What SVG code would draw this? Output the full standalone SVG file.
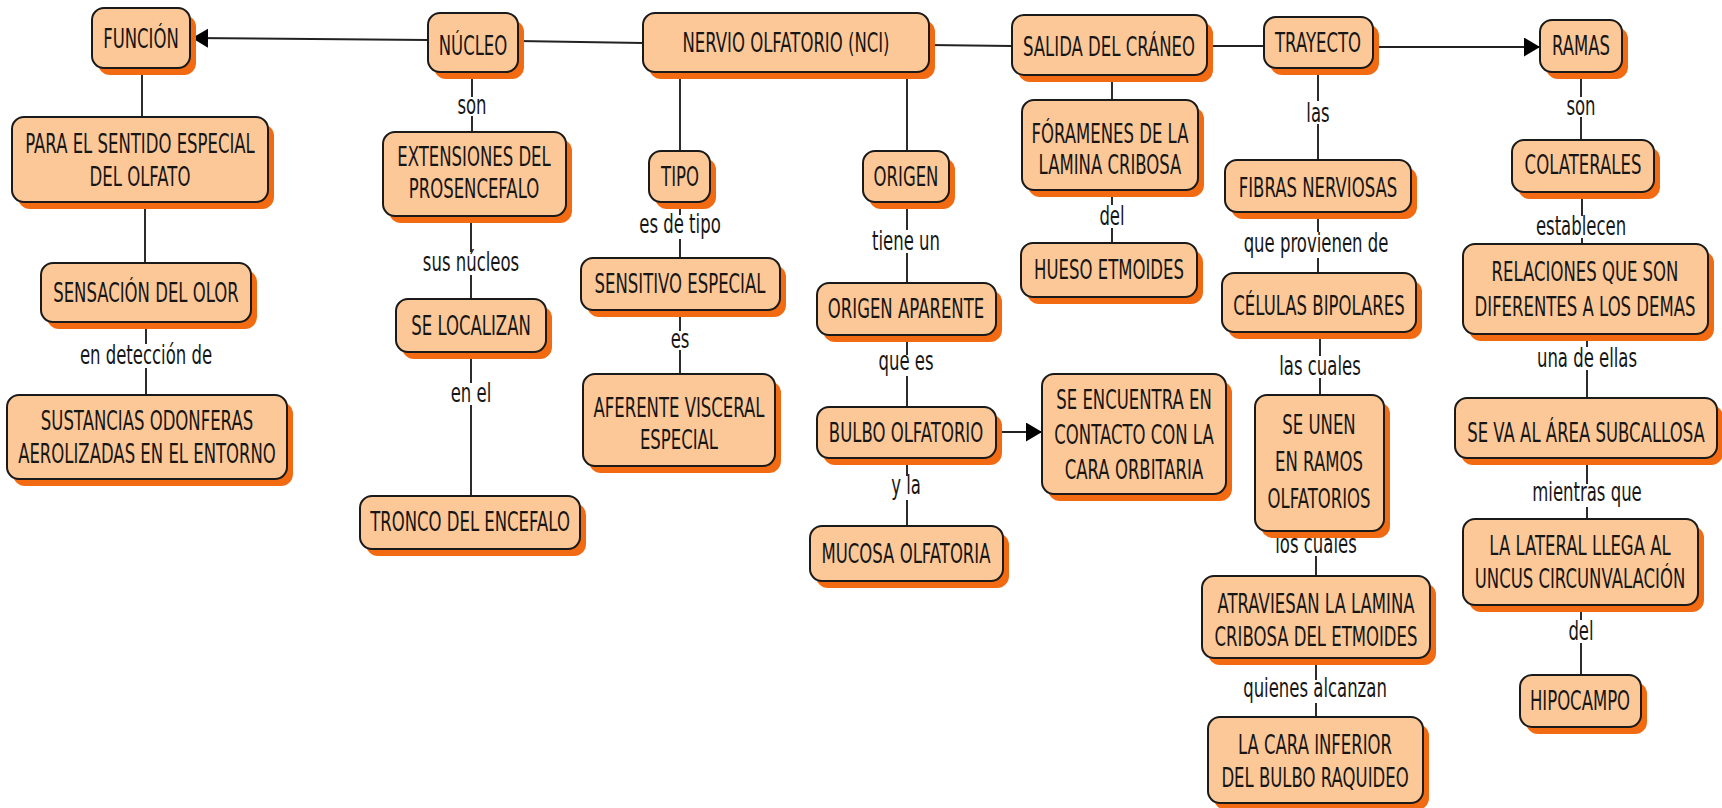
<svg xmlns="http://www.w3.org/2000/svg" width="1722" height="808" viewBox="0 0 1722 808">
<defs>
<style>
.sh{fill:#F26A12}
.bx{fill:#FDC897;stroke:#1a1a1a;stroke-width:2}
.t{font-family:"DejaVu Sans",Verdana,sans-serif;font-size:26.5px;fill:#161616;text-anchor:middle}
.cn{stroke:#222;stroke-width:1.9;fill:none}
</style>
<marker id="ah" markerWidth="17" markerHeight="20" refX="16" refY="9.5" orient="auto" markerUnits="userSpaceOnUse"><path d="M0,0 L16,9.5 L0,19 z" fill="#000"/></marker>
</defs>
<rect width="1722" height="808" fill="#fff"/>
<g id="connectors">
<line class="cn" x1="428" y1="40" x2="192" y2="38" marker-end="url(#ah)"/>
<line class="cn" x1="518" y1="41" x2="643" y2="43"/>
<line class="cn" x1="929" y1="45" x2="1012" y2="46"/>
<line class="cn" x1="1207" y1="46" x2="1264" y2="46"/>
<line class="cn" x1="1373" y1="47" x2="1540" y2="47" marker-end="url(#ah)"/>
<line class="cn" x1="142" y1="68" x2="142" y2="117"/>
<line class="cn" x1="145" y1="202" x2="145" y2="263"/>
<path class="cn" d="M146,322V344M146,368V395"/>
<path class="cn" d="M472,72V97M472,116V133"/>
<path class="cn" d="M471,210V252M471,275V301"/>
<path class="cn" d="M471,350V383M471,405V496"/>
<path class="cn" d="M680,72V151"/>
<path class="cn" d="M680,200V215M680,239V258"/>
<path class="cn" d="M680,310V331M680,350V376"/>
<path class="cn" d="M907,72V151"/>
<path class="cn" d="M907,200V230M907,253V283"/>
<path class="cn" d="M907,335V355M907,376V407"/>
<line class="cn" x1="996" y1="432" x2="1042" y2="432" marker-end="url(#ah)"/>
<path class="cn" d="M907,458V476M907,500V526"/>
<path class="cn" d="M1112,75V100"/>
<path class="cn" d="M1112,190V205M1112,228V243"/>
<path class="cn" d="M1318,68V101M1318,124V160"/>
<path class="cn" d="M1318,212V232M1318,258V273"/>
<path class="cn" d="M1320,332V356M1320,378V400"/>
<path class="cn" d="M1316,528V535M1316,556V576"/>
<path class="cn" d="M1316,658V680M1316,703V717"/>
<path class="cn" d="M1581,72V97M1581,117V140"/>
<path class="cn" d="M1582,192V216M1582,238V248"/>
<path class="cn" d="M1587,330V347M1587,370V398"/>
<path class="cn" d="M1587,458V484M1587,507V522"/>
<path class="cn" d="M1581,602V620M1581,643V675"/>
<text class="t" transform="translate(146,364) scale(.623,1)">en detección de</text>
<text class="t" transform="translate(472,114) scale(.623,1)">son</text>
<text class="t" transform="translate(471,271) scale(.623,1)">sus núcleos</text>
<text class="t" transform="translate(471,402) scale(.623,1)">en el</text>
<text class="t" transform="translate(680,233) scale(.623,1)">es de tipo</text>
<text class="t" transform="translate(680,348) scale(.623,1)">es</text>
<text class="t" transform="translate(906,250) scale(.623,1)">tiene un</text>
<text class="t" transform="translate(906,370) scale(.623,1)">que es</text>
<text class="t" transform="translate(906,494) scale(.623,1)">y la</text>
<text class="t" transform="translate(1112,225) scale(.623,1)">del</text>
<text class="t" transform="translate(1318,122) scale(.623,1)">las</text>
<text class="t" transform="translate(1316,252) scale(.623,1)">que provienen de</text>
<text class="t" transform="translate(1320,375) scale(.623,1)">las cuales</text>
<text class="t" transform="translate(1316,553) scale(.623,1)">los cuales</text>
<text class="t" transform="translate(1315,697) scale(.623,1)">quienes alcanzan</text>
<text class="t" transform="translate(1581,115) scale(.623,1)">son</text>
<text class="t" transform="translate(1581,235) scale(.623,1)">establecen</text>
<text class="t" transform="translate(1587,367) scale(.623,1)">una de ellas</text>
<text class="t" transform="translate(1587,501) scale(.623,1)">mientras que</text>
<text class="t" transform="translate(1581,640) scale(.623,1)">del</text>
</g>
<g id="n01"><rect class="sh" x="98" y="15" width="98" height="60" rx="12"/><rect class="bx" x="92" y="8" width="98" height="60" rx="12"/><text class="t" transform="translate(141,48) scale(.623,1)">FUNCIÓN</text></g>
<g id="n02"><rect class="sh" x="434" y="20" width="90" height="59" rx="12"/><rect class="bx" x="428" y="13" width="90" height="59" rx="12"/><text class="t" transform="translate(473,55) scale(.623,1)">NÚCLEO</text></g>
<g id="n03"><rect class="sh" x="649" y="20" width="286" height="59" rx="12"/><rect class="bx" x="643" y="13" width="286" height="59" rx="12"/><text class="t" transform="translate(786,52) scale(.623,1)">NERVIO OLFATORIO (NCI)</text></g>
<g id="n04"><rect class="sh" x="1018" y="22" width="195" height="60" rx="12"/><rect class="bx" x="1012" y="15" width="195" height="60" rx="12"/><text class="t" transform="translate(1109,56) scale(.623,1)">SALIDA DEL CRÁNEO</text></g>
<g id="n05"><rect class="sh" x="1270" y="24" width="109" height="51" rx="12"/><rect class="bx" x="1264" y="17" width="109" height="51" rx="12"/><text class="t" transform="translate(1318,52) scale(.623,1)">TRAYECTO</text></g>
<g id="n06"><rect class="sh" x="1546" y="27" width="82" height="52" rx="12"/><rect class="bx" x="1540" y="20" width="82" height="52" rx="12"/><text class="t" transform="translate(1581,55) scale(.623,1)">RAMAS</text></g>
<g id="n07"><rect class="sh" x="18" y="124" width="256" height="85" rx="12"/><rect class="bx" x="12" y="117" width="256" height="85" rx="12"/><text class="t" transform="translate(140,153) scale(.623,1)"><tspan x="0" y="0">PARA EL SENTIDO ESPECIAL</tspan><tspan x="0" y="33">DEL OLFATO</tspan></text></g>
<g id="n08"><rect class="sh" x="389" y="139" width="183" height="84" rx="12"/><rect class="bx" x="383" y="132" width="183" height="84" rx="12"/><text class="t" transform="translate(474,166) scale(.623,1)"><tspan x="0" y="0">EXTENSIONES DEL</tspan><tspan x="0" y="32">PROSENCEFALO</tspan></text></g>
<g id="n09"><rect class="sh" x="655" y="158" width="61" height="51" rx="12"/><rect class="bx" x="649" y="151" width="61" height="51" rx="12"/><text class="t" transform="translate(680,186) scale(.623,1)">TIPO</text></g>
<g id="n10"><rect class="sh" x="869" y="158" width="86" height="51" rx="12"/><rect class="bx" x="863" y="151" width="86" height="51" rx="12"/><text class="t" transform="translate(906,186) scale(.623,1)">ORIGEN</text></g>
<g id="n11"><rect class="sh" x="1028" y="107" width="176" height="90" rx="12"/><rect class="bx" x="1022" y="100" width="176" height="90" rx="12"/><text class="t" transform="translate(1110,143) scale(.623,1)"><tspan x="0" y="0">FÓRAMENES DE LA</tspan><tspan x="0" y="31">LAMINA CRIBOSA</tspan></text></g>
<g id="n12"><rect class="sh" x="1231" y="167" width="186" height="52" rx="12"/><rect class="bx" x="1225" y="160" width="186" height="52" rx="12"/><text class="t" transform="translate(1318,197) scale(.623,1)">FIBRAS NERVIOSAS</text></g>
<g id="n13"><rect class="sh" x="1518" y="147" width="142" height="52" rx="12"/><rect class="bx" x="1512" y="140" width="142" height="52" rx="12"/><text class="t" transform="translate(1583,174) scale(.623,1)">COLATERALES</text></g>
<g id="n14"><rect class="sh" x="47" y="270" width="210" height="59" rx="12"/><rect class="bx" x="41" y="263" width="210" height="59" rx="12"/><text class="t" transform="translate(146,302) scale(.623,1)">SENSACIÓN DEL OLOR</text></g>
<g id="n15"><rect class="sh" x="402" y="306" width="150" height="53" rx="12"/><rect class="bx" x="396" y="299" width="150" height="53" rx="12"/><text class="t" transform="translate(471,335) scale(.623,1)">SE LOCALIZAN</text></g>
<g id="n16"><rect class="sh" x="587" y="265" width="199" height="52" rx="12"/><rect class="bx" x="581" y="258" width="199" height="52" rx="12"/><text class="t" transform="translate(680,293) scale(.623,1)">SENSITIVO ESPECIAL</text></g>
<g id="n17"><rect class="sh" x="823" y="290" width="179" height="52" rx="12"/><rect class="bx" x="817" y="283" width="179" height="52" rx="12"/><text class="t" transform="translate(906,318) scale(.623,1)">ORIGEN APARENTE</text></g>
<g id="n18"><rect class="sh" x="1027" y="250" width="176" height="54" rx="12"/><rect class="bx" x="1021" y="243" width="176" height="54" rx="12"/><text class="t" transform="translate(1109,279) scale(.623,1)">HUESO ETMOIDES</text></g>
<g id="n19"><rect class="sh" x="1228" y="280" width="194" height="59" rx="12"/><rect class="bx" x="1222" y="273" width="194" height="59" rx="12"/><text class="t" transform="translate(1319,315) scale(.623,1)">CÉLULAS BIPOLARES</text></g>
<g id="n20"><rect class="sh" x="1469" y="251" width="245" height="90" rx="12"/><rect class="bx" x="1463" y="244" width="245" height="90" rx="12"/><text class="t" transform="translate(1585,281) scale(.623,1)"><tspan x="0" y="0">RELACIONES QUE SON</tspan><tspan x="0" y="35">DIFERENTES A LOS DEMAS</tspan></text></g>
<g id="n21"><rect class="sh" x="13" y="402" width="280" height="84" rx="12"/><rect class="bx" x="7" y="395" width="280" height="84" rx="12"/><text class="t" transform="translate(147,430) scale(.623,1)"><tspan x="0" y="0">SUSTANCIAS ODONFERAS</tspan><tspan x="0" y="33">AEROLIZADAS EN EL ENTORNO</tspan></text></g>
<g id="n22"><rect class="sh" x="589" y="381" width="192" height="92" rx="12"/><rect class="bx" x="583" y="374" width="192" height="92" rx="12"/><text class="t" transform="translate(679,417) scale(.623,1)"><tspan x="0" y="0">AFERENTE VISCERAL</tspan><tspan x="0" y="32">ESPECIAL</tspan></text></g>
<g id="n23"><rect class="sh" x="823" y="414" width="179" height="51" rx="12"/><rect class="bx" x="817" y="407" width="179" height="51" rx="12"/><text class="t" transform="translate(906,442) scale(.623,1)">BULBO OLFATORIO</text></g>
<g id="n24"><rect class="sh" x="1048" y="381" width="184" height="120" rx="12"/><rect class="bx" x="1042" y="374" width="184" height="120" rx="12"/><text class="t" transform="translate(1134,409) scale(.623,1)"><tspan x="0" y="0">SE ENCUENTRA EN</tspan><tspan x="0" y="35">CONTACTO CON LA</tspan><tspan x="0" y="70">CARA ORBITARIA</tspan></text></g>
<g id="n25"><rect class="sh" x="1261" y="402" width="129" height="136" rx="12"/><rect class="bx" x="1255" y="395" width="129" height="136" rx="12"/><text class="t" transform="translate(1319,434) scale(.623,1)"><tspan x="0" y="0">SE UNEN</tspan><tspan x="0" y="37">EN RAMOS</tspan><tspan x="0" y="74">OLFATORIOS</tspan></text></g>
<g id="n26"><rect class="sh" x="1461" y="405" width="262" height="60" rx="12"/><rect class="bx" x="1455" y="398" width="262" height="60" rx="12"/><text class="t" transform="translate(1586,442) scale(.623,1)">SE VA AL ÁREA SUBCALLOSA</text></g>
<g id="n27"><rect class="sh" x="366" y="503" width="220" height="53" rx="12"/><rect class="bx" x="360" y="496" width="220" height="53" rx="12"/><text class="t" transform="translate(470,531) scale(.623,1)">TRONCO DEL ENCEFALO</text></g>
<g id="n28"><rect class="sh" x="816" y="533" width="193" height="55" rx="12"/><rect class="bx" x="810" y="526" width="193" height="55" rx="12"/><text class="t" transform="translate(906,563) scale(.623,1)">MUCOSA OLFATORIA</text></g>
<g id="n29"><rect class="sh" x="1469" y="526" width="235" height="86" rx="12"/><rect class="bx" x="1463" y="519" width="235" height="86" rx="12"/><text class="t" transform="translate(1580,555) scale(.623,1)"><tspan x="0" y="0">LA LATERAL LLEGA AL</tspan><tspan x="0" y="33">UNCUS CIRCUNVALACIÓN</tspan></text></g>
<g id="n30"><rect class="sh" x="1208" y="583" width="228" height="82" rx="12"/><rect class="bx" x="1202" y="576" width="228" height="82" rx="12"/><text class="t" transform="translate(1316,613) scale(.623,1)"><tspan x="0" y="0">ATRAVIESAN LA LAMINA</tspan><tspan x="0" y="33">CRIBOSA DEL ETMOIDES</tspan></text></g>
<g id="n31"><rect class="sh" x="1526" y="682" width="121" height="52" rx="12"/><rect class="bx" x="1520" y="675" width="121" height="52" rx="12"/><text class="t" transform="translate(1580,710) scale(.623,1)">HIPOCAMPO</text></g>
<g id="n32"><rect class="sh" x="1214" y="724" width="215" height="86" rx="12"/><rect class="bx" x="1208" y="717" width="215" height="86" rx="12"/><text class="t" transform="translate(1315,754) scale(.623,1)"><tspan x="0" y="0">LA CARA INFERIOR</tspan><tspan x="0" y="33">DEL BULBO RAQUIDEO</tspan></text></g>
</svg>
